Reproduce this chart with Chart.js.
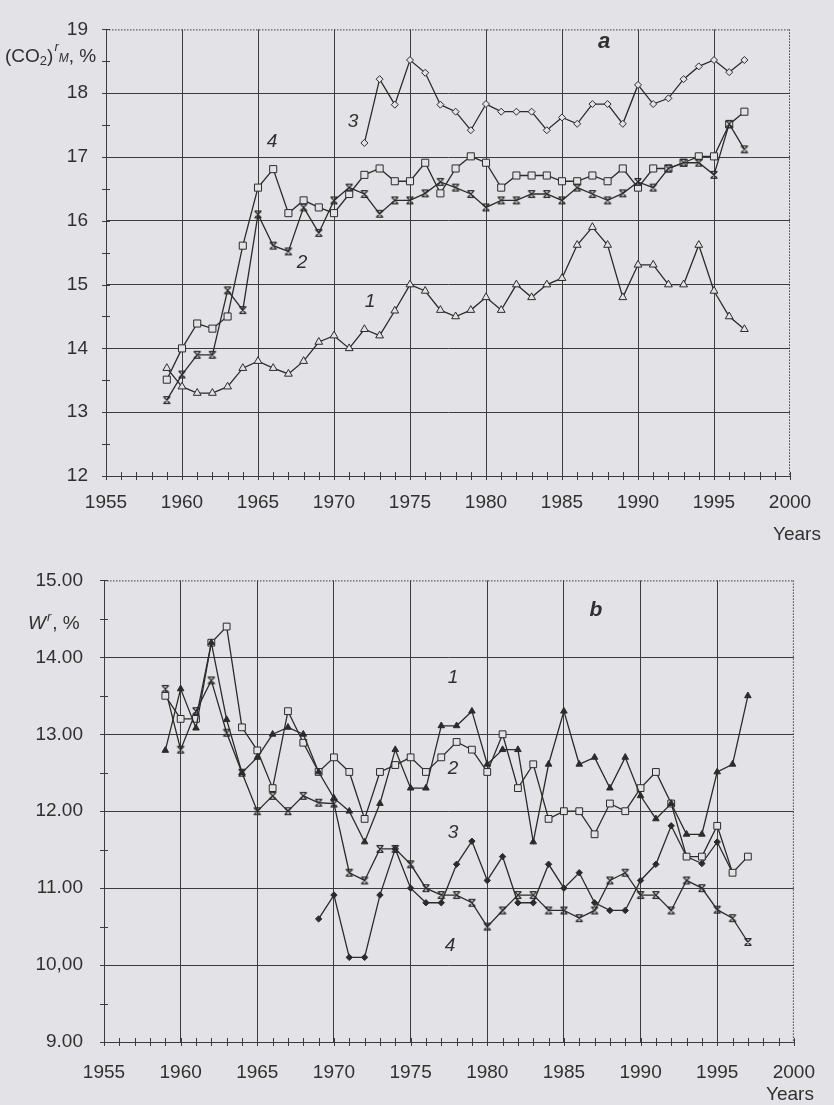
<!DOCTYPE html>
<html><head><meta charset="utf-8">
<script src="https://cdn.jsdelivr.net/npm/chart.js@4.4.1/dist/chart.umd.min.js"></script>
<style>
html,body{margin:0;padding:0;background:#e3e3e7;}
body{width:834px;height:1105px;position:relative;overflow:hidden;}
canvas{position:absolute;left:0;}
</style></head><body>
<canvas id="chartA" width="834" height="560" style="top:0"></canvas>
<canvas id="chartB" width="834" height="557" style="top:548px"></canvas>
<script>
// ---------- DATA ----------
const years = [1959,1960,1961,1962,1963,1964,1965,1966,1967,1968,1969,1970,1971,1972,1973,1974,1975,1976,1977,1978,1979,1980,1981,1982,1983,1984,1985,1986,1987,1988,1989,1990,1991,1992,1993,1994,1995,1996,1997];
const xTickLabels = ['1955','1960','1965','1970','1975','1980','1985','1990','1995','2000'];
const topYLabels = ['12','13','14','15','16','17','18','19'];
const botYLabels = ['9.00','10,00','11.00','12.00','13.00','14.00','15.00'];

// (a) CO2 max, %
const topCurve1 = [13.69,13.4,13.3,13.3,13.4,13.69,13.8,13.69,13.6,13.8,14.1,14.2,14.0,14.3,14.2,14.59,15.0,14.9,14.6,14.5,14.6,14.8,14.6,15.0,14.8,15.0,15.1,15.62,15.9,15.62,14.8,15.31,15.31,15.0,15.0,15.62,14.9,14.5,14.3];
const topCurve2 = [13.19,13.59,13.9,13.9,14.91,14.6,16.1,15.61,15.52,16.21,15.81,16.32,16.52,16.42,16.11,16.32,16.32,16.43,16.61,16.52,16.42,16.21,16.32,16.32,16.42,16.42,16.32,16.52,16.42,16.32,16.43,16.61,16.52,16.82,16.91,16.91,16.72,17.52,17.12];
const topCurve3Years = [1972,1973,1974,1975,1976,1977,1978,1979,1980,1981,1982,1983,1984,1985,1986,1987,1988,1989,1990,1991,1992,1993,1994,1995,1996,1997];
const topCurve3 = [17.22,18.22,17.82,18.52,18.32,17.82,17.71,17.42,17.83,17.71,17.71,17.71,17.42,17.62,17.52,17.83,17.83,17.52,18.13,17.83,17.92,18.22,18.42,18.52,18.33,18.52];
const topCurve4 = [13.51,14.0,14.39,14.31,14.5,15.61,16.52,16.81,16.12,16.32,16.21,16.12,16.42,16.72,16.82,16.62,16.62,16.91,16.43,16.82,17.01,16.91,16.52,16.71,16.71,16.71,16.62,16.62,16.71,16.62,16.82,16.52,16.82,16.82,16.91,17.01,17.01,17.51,17.71];

// (b) W, %
const botCurve1 = [12.79,13.59,13.08,14.19,13.19,12.5,12.7,13.0,13.09,13.0,12.51,12.17,12.0,11.6,12.1,12.8,12.3,12.3,13.11,13.11,13.3,12.61,12.8,12.8,11.6,12.61,13.3,12.61,12.7,12.3,12.7,12.2,11.9,12.1,11.7,11.7,12.51,12.61,13.5];
const botCurve2 = [13.5,13.2,13.2,14.19,14.4,13.09,12.79,12.3,13.3,12.89,12.51,12.7,12.51,11.9,12.51,12.6,12.7,12.51,12.7,12.9,12.8,12.51,13.0,12.3,12.61,11.9,12.0,12.0,11.7,12.1,12.0,12.3,12.51,12.1,11.41,11.41,11.81,11.2,11.41];
const botCurve3Years = [1969,1970,1971,1972,1973,1974,1975,1976,1977,1978,1979,1980,1981,1982,1983,1984,1985,1986,1987,1988,1989,1990,1991,1992,1993,1994,1995,1996];
const botCurve3 = [10.6,10.91,10.1,10.1,10.91,11.51,11.0,10.81,10.81,11.31,11.61,11.1,11.41,10.81,10.81,11.31,11.0,11.2,10.81,10.71,10.71,11.1,11.31,11.81,11.41,11.32,11.6,11.2];
const botCurve4 = [13.59,12.8,13.3,13.7,13.02,12.5,12.0,12.2,12.0,12.2,12.11,12.1,11.2,11.1,11.51,11.51,11.31,11.0,10.91,10.91,10.81,10.5,10.71,10.91,10.91,10.71,10.71,10.61,10.71,11.1,11.2,10.91,10.91,10.71,11.1,11.0,10.72,10.61,10.3];

// ---------- STYLE ----------
const BG = '#e3e3e7';
const INK = '#2b2b2b';
const GRID = '#3c3c3c';
const TXT = '#303030';
const FONT = '"Liberation Sans", Arial, Helvetica, sans-serif';

function pts(xs, ys){ return xs.map((x,i)=>({x:x, y:ys[i]})); }

function starMarker(){
  const c=document.createElement('canvas'); c.width=10; c.height=10;
  const g=c.getContext('2d'); g.strokeStyle=INK; g.lineWidth=1.2;
  g.beginPath();
  g.moveTo(2,2); g.lineTo(8,8); g.moveTo(8,2); g.lineTo(2,8);
  g.moveTo(1.5,1.6); g.lineTo(8.5,1.6); g.moveTo(1.5,8.4); g.lineTo(8.5,8.4);
  g.stroke(); return c;
}
const STAR = starMarker();

function ds(data, style, radius, fillColor){
  return {data:data, borderColor:INK, borderWidth:1.3, tension:0, fill:false,
    pointStyle:style, pointRadius:radius, pointBorderColor:INK, pointBorderWidth:1,
    pointBackgroundColor:fillColor, spanGaps:false};
}

function drawRuns(ctx, x, y, runs){
  ctx.textAlign='left'; ctx.textBaseline='alphabetic'; ctx.fillStyle=TXT;
  for(const r of runs){
    ctx.font = r.style+' '+r.size+'px '+FONT;
    ctx.fillText(r.t, x, y + (r.dy||0));
    x += ctx.measureText(r.t).width + (r.gap||0);
  }
}

function extras(o){
  return {id:'extras'+o.id, afterDraw(chart){
    const ctx=chart.ctx, a=chart.chartArea, xs=chart.scales.x, ys=chart.scales.y;
    ctx.save();
    // dotted top & right border
    ctx.strokeStyle=GRID; ctx.lineWidth=1; ctx.setLineDash([1.5,1.5]);
    ctx.beginPath(); ctx.moveTo(a.left,a.top+0.5); ctx.lineTo(a.right,a.top+0.5);
    ctx.moveTo(a.right-0.5,a.top); ctx.lineTo(a.right-0.5,a.bottom); ctx.stroke();
    ctx.setLineDash([]);
    // minor ticks
    ctx.beginPath();
    for(let yr=1955; yr<=2000; yr++){
      const px=Math.round(xs.getPixelForValue(yr))+0.5;
      ctx.moveTo(px,a.bottom-4); ctx.lineTo(px,a.bottom+4);
    }
    for(let v=o.ymin; v<=o.ymax; v+=0.5){
      const py=Math.round(ys.getPixelForValue(v))+0.5;
      ctx.moveTo(a.left-4,py); ctx.lineTo(a.left+4,py);
    }
    ctx.stroke();
    // texts
    for(const t of o.texts){
      ctx.font=t.font; ctx.fillStyle=TXT; ctx.textAlign='center'; ctx.textBaseline='middle';
      ctx.fillText(t.t, t.x, t.y);
    }
    o.title(ctx);
    ctx.restore();
  }};
}

function build(o){
  return new Chart(document.getElementById(o.id), {
    type:'line',
    data:{datasets:o.datasets},
    options:{
      responsive:false, animation:false, events:[],
      layout:{padding:{left:0,right:o.padR,top:o.padT,bottom:0}},
      plugins:{legend:{display:false},tooltip:{enabled:false}},
      scales:{
        x:{type:'linear',min:1955,max:2000,
          afterFit:s=>{s.height=o.xH;},
          ticks:{stepSize:5,padding:o.xPad,maxRotation:0,autoSkip:false,
            font:{family:FONT,size:19},color:TXT,
            callback:v=>xTickLabels[Math.round((v-1955)/5)]},
          grid:{drawTicks:false,lineWidth:1,color:c=>(c.tick&&c.tick.value===2000)?'rgba(0,0,0,0)':GRID},
          border:{display:true,color:GRID,width:1}},
        y:{type:'linear',min:o.ymin,max:o.ymax,
          afterFit:s=>{s.width=o.yW;},
          ticks:{stepSize:1,padding:o.yPad,font:{family:FONT,size:19},color:TXT,
            callback:v=>o.yLabels[Math.round(v-o.ymin)]},
          grid:{drawTicks:false,lineWidth:1,color:c=>(c.tick&&c.tick.value===o.ymax)?'rgba(0,0,0,0)':GRID},
          border:{display:true,color:GRID,width:1}}
      }
    },
    plugins:[extras(o)]
  });
}

const numFont = 'italic 19px '+FONT;

build({
  id:'chartA', ymin:12, ymax:19, yLabels:topYLabels,
  padR:44, padT:12, xH:84, yW:106, xPad:15, yPad:18,
  datasets:[
    ds(pts(years, topCurve1), 'triangle', 4.5, BG),
    ds(pts(years, topCurve2), STAR, 5, INK),
    ds(pts(topCurve3Years, topCurve3), 'rectRot', 3.5, BG),
    ds(pts(years, topCurve4), 'rect', 5, BG)
  ],
  texts:[
    {t:'4', x:272, y:142, font:numFont},
    {t:'3', x:353, y:122, font:numFont},
    {t:'2', x:302, y:263, font:numFont},
    {t:'1', x:370, y:302, font:numFont},
    {t:'a', x:604, y:42, font:'italic bold 22px '+FONT},
    {t:'Years', x:797, y:535, font:'19px '+FONT}
  ],
  title:ctx=>drawRuns(ctx, 5, 62, [
    {t:'(CO', size:19, style:'normal'},
    {t:'2', size:13, style:'normal', dy:3},
    {t:')', size:19, style:'normal', gap:1},
    {t:'r', size:13, style:'italic', dy:-11},
    {t:'M', size:12, style:'italic', gap:0},
    {t:', %', size:19, style:'normal'}
  ])
});

build({
  id:'chartB', ymin:9, ymax:15, yLabels:botYLabels,
  padR:37, padT:21, xH:63, yW:104, xPad:19, yPad:21,
  datasets:[
    ds(pts(years, botCurve1), 'triangle', 3.8, INK),
    ds(pts(years, botCurve2), 'rect', 4.8, BG),
    ds(pts(botCurve3Years, botCurve3), 'rectRot', 3.2, INK),
    ds(pts(years, botCurve4), STAR, 5, INK)
  ],
  texts:[
    {t:'1', x:453, y:678-548, font:numFont},
    {t:'2', x:453, y:769-548, font:numFont},
    {t:'3', x:453, y:833-548, font:numFont},
    {t:'4', x:450, y:946-548, font:numFont},
    {t:'b', x:596, y:610-548, font:'italic bold 21px '+FONT},
    {t:'Years', x:790, y:1095-548, font:'19px '+FONT}
  ],
  title:ctx=>drawRuns(ctx, 28, 629-548, [
    {t:'W', size:19, style:'italic', gap:1},
    {t:'r', size:13, style:'italic', dy:-8, gap:1},
    {t:', %', size:19, style:'normal'}
  ])
});
</script>
</body></html>
